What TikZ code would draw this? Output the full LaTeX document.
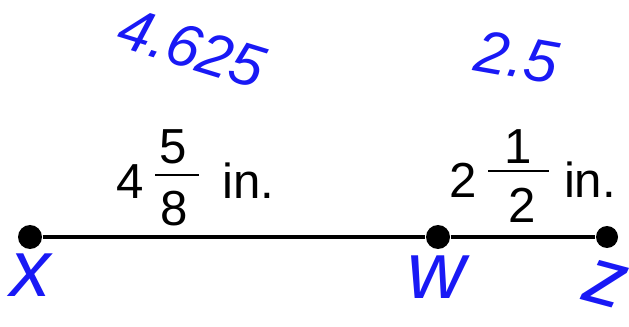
\documentclass[tikz,border=0pt]{standalone}
\usepackage{fontspec}
\setmainfont{Liberation Sans}
\usepackage{xcolor}
\usetikzlibrary{positioning}
\definecolor{penblue}{RGB}{25,25,245}

\begin{document}
\begin{tikzpicture}[font=\fontsize{14}{17}\selectfont,
	dot/.style={circle, fill=black, inner sep=0pt, minimum size=0.24cm},
	num/.style={inner sep=0pt, anchor=base},
	pen/.style={text=penblue, inner sep=0pt, font=\fontsize{17}{20}\selectfont\itshape},
	penbig/.style={pen, font=\fontsize{23}{26}\selectfont\itshape}]
			\useasboundingbox (0,0) rectangle (6.29,3.26);

			% Points on the segment
			\node[dot] (X) at (0.30,0.89) {};
			\node[dot] (W) at (4.38,0.89) {};
			\node[dot, minimum size=0.22cm] (Z) at (6.07,0.89) {};
			\draw[line width=0.9pt] (X) -- (W) -- (Z);

			% Length of XW
			\node[num] (xwWhole) at (1.30,1.27) {4};
			\node[num] (xwNum) at (1.735,1.63) {5};
			\node[num] (xwDen) at (1.74,1.01) {8};
			\draw[line width=0.7pt] (1.55,1.51) -- (1.99,1.51);
			\node[num] (xwUnit) at (2.485,1.27) {in.};

			% Length of WZ
			\node[num] (wzWhole) at (4.635,1.28) {2};
			\node[num] (wzNum) at (5.18,1.63) {1};
			\node[num] (wzDen) at (5.22,1.04) {2};
			\draw[line width=0.7pt] (4.88,1.55) -- (5.49,1.55);
			\node[num] (wzUnit) at (5.90,1.28) {in.};

			% Handwritten notes
			\node[pen, rotate=-17] (xwDec) at (1.92,2.78) {4.625};
			\node[pen, rotate=-10] (wzDec) at (5.17,2.69) {2.5};
			\node[penbig] (xName) at (0.31,0.51) {x};
			\node[penbig] (wName) at (4.37,0.49) {w};
			\node[penbig, rotate=-15] (zName) at (6.06,0.42) {z};
		\end{tikzpicture}
\end{document}
